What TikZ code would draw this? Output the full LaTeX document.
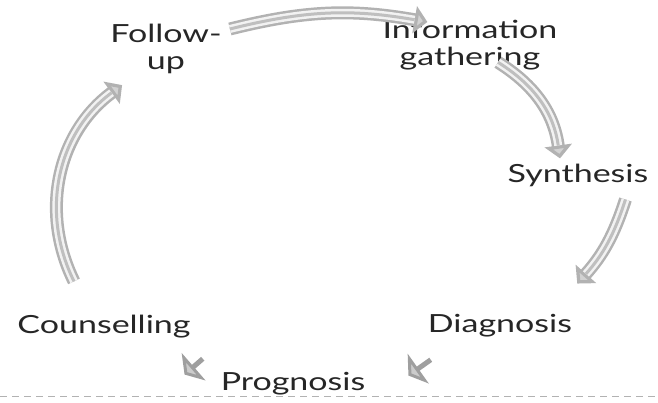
\documentclass[tikz,border=0pt]{standalone}
\usepackage{fontspec}
\setmainfont{Lato}[FakeStretch=1.36]
\usepackage{tikz}
\usetikzlibrary{calc}
\usetikzlibrary{arrows.meta}
\tikzset{
	lbl/.style={inner sep=0pt,font=\fontsize{25}{27}\selectfont,text=black!85},
	tube/.style={line width=13pt,draw=gray!60,
		-{Triangle[length=13pt,width=27pt,fill=gray!35]},
		postaction={draw=gray!10,line width=8pt,-,shorten >=13pt},
		postaction={draw=gray!50,line width=3pt,-,shorten >=13pt}},
	stub/.style={line width=5pt,draw=gray!75,
		-{Triangle[length=12pt,width=36pt,fill=gray!40]}},
}

\begin{document}
\begin{tikzpicture}[x=1pt,y=-1pt]
	\useasboundingbox (0,0) rectangle (658,403);
	\node[lbl,align=center,anchor=north] (fol) at (166,24) {Follow-\\up};
	\node[lbl,align=center,anchor=north] (inf) at (470,20) {Information\\gathering};
	\node[lbl,anchor=base] (syn) at (578,183) {Synthesis};
	\node[lbl,anchor=base] (dia) at (500,332) {Diagnosis};
	\node[lbl,anchor=base] (cou) at (104,333) {Counselling};
	\node[lbl,anchor=base] (pro) at (293,390) {Prognosis};
	\draw[gray!60,dash pattern=on 7pt off 5pt] (0,396) -- (658,396);
	\draw[tube] ([shift={(8,5)}]fol.north east) to[bend left=12] ([shift={(45,2)}]inf.north west);
	\draw[tube] ([shift={(28,-8)}]inf.south) to[bend left=25] ([shift={(-18,-6)}]syn.north);
	\draw[tube] ([shift={(-23,12)}]syn.south east) to[bend left=12] ([shift={(5,-30)}]dia.north east);
	\draw[stub] ([shift={(3,23)}]dia.south west) -- ([shift={(43,4)}]pro.north east);
	\draw[stub] ([shift={(12,21)}]cou.south east) -- ([shift={(-36,3)}]pro.north west);
	\draw[tube] ([shift={(-30,-33)}]cou.north) to[bend left=40] ([shift={(12,11)}]fol.south west);
\end{tikzpicture}
\end{document}
